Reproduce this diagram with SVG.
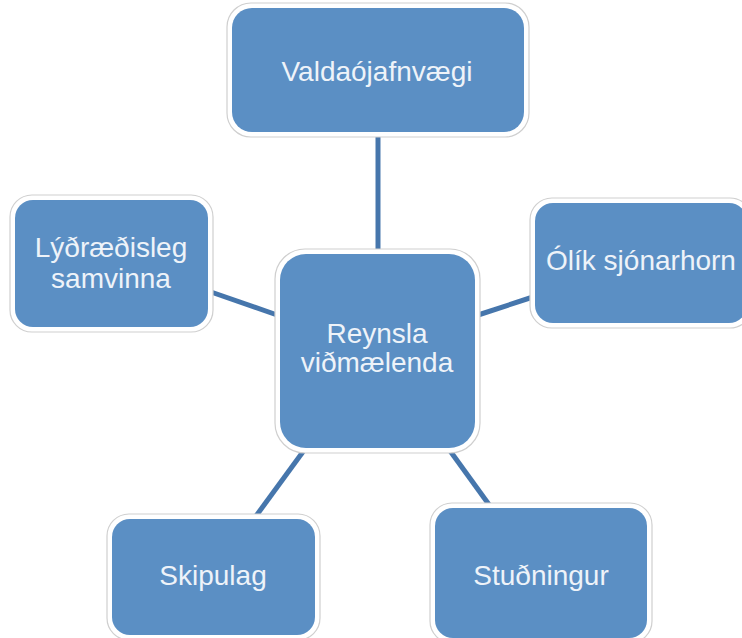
<svg xmlns="http://www.w3.org/2000/svg" width="742" height="638" viewBox="0 0 742 638">
<style>
.frame{fill:#ffffff;stroke:#cfcfcf;stroke-width:1.2}
.box{fill:#5b8fc4}
.lbl{font-family:"Liberation Sans",Arial,sans-serif;font-size:28px;fill:#eef3f9;text-anchor:middle}
.conn{stroke:#4676ac;stroke-width:5;fill:none}
</style>
<rect width="742" height="638" fill="#ffffff"/>
<g id="connectors">
<line class="conn" x1="378" y1="135" x2="378" y2="252"/>
<line class="conn" x1="211" y1="292" x2="280" y2="316"/>
<line class="conn" x1="475" y1="316" x2="536" y2="296"/>
<line class="conn" x1="305" y1="449" x2="256" y2="516"/>
<line class="conn" x1="448" y1="448" x2="490" y2="506"/>
</g>
<g id="n-valdaojafnvaegi">
<rect class="frame" x="227" y="3" width="302" height="134" rx="24"/>
<rect class="box" x="232" y="8" width="292" height="124" rx="20"/>
<text class="lbl" x="377" y="81">Valdaójafnvægi</text>
</g>
<g id="n-reynsla">
<rect class="frame" x="275" y="249" width="205" height="204" rx="30"/>
<rect class="box" x="280" y="254" width="195" height="194" rx="26"/>
<text class="lbl" x="377" y="343">Reynsla</text>
<text class="lbl" x="377" y="372">viðmælenda</text>
</g>
<g id="n-olik">
<rect class="frame" x="530" y="198" width="222" height="130" rx="22"/>
<rect class="box" x="535" y="203" width="212" height="120" rx="18"/>
<text class="lbl" x="641" y="270">Ólík sjónarhorn</text>
</g>
<g id="n-lydraedisleg">
<rect class="frame" x="10" y="195" width="203" height="137" rx="22"/>
<rect class="box" x="15" y="200" width="193" height="127" rx="18"/>
<text class="lbl" x="111" y="257">Lýðræðisleg</text>
<text class="lbl" x="111" y="288">samvinna</text>
</g>
<g id="n-skipulag">
<rect class="frame" x="107" y="514" width="213" height="126" rx="22"/>
<rect class="box" x="112" y="519" width="203" height="116" rx="18"/>
<text class="lbl" x="213" y="585">Skipulag</text>
</g>
<g id="n-studningur">
<rect class="frame" x="430" y="503" width="222" height="140" rx="22"/>
<rect class="box" x="435" y="508" width="212" height="130" rx="18"/>
<text class="lbl" x="541" y="585">Stuðningur</text>
</g>
</svg>
